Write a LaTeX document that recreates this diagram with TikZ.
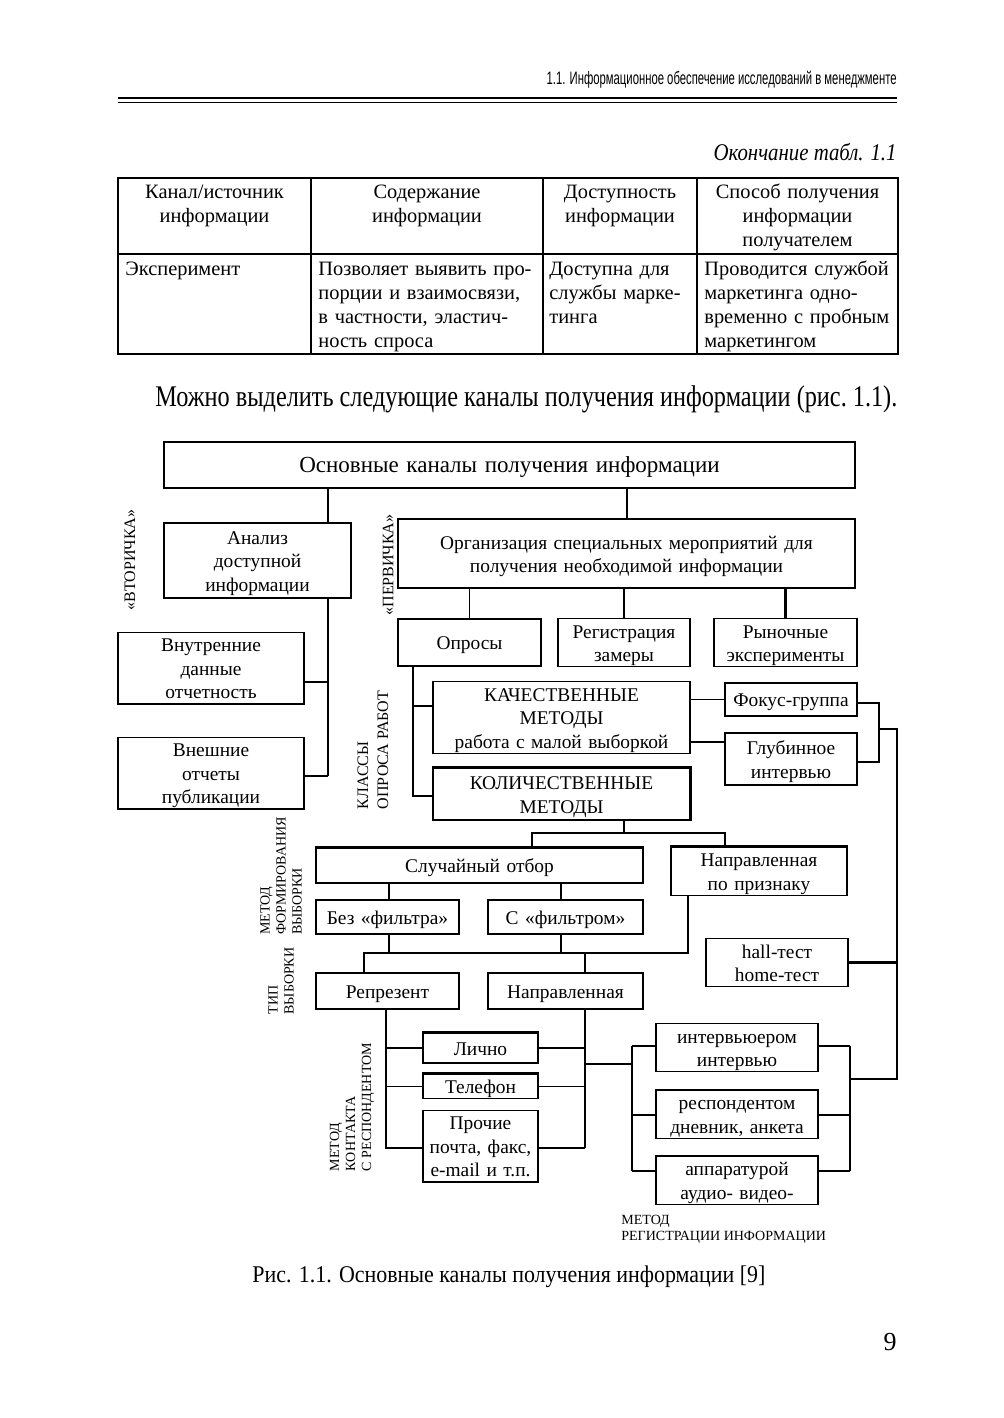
\documentclass[tikz,border=0pt]{standalone}
\usepackage{fontspec}
\usepackage{graphicx}
\setmainfont{Liberation Serif}
\newfontfamily\headfont{Liberation Sans}

\newcommand{\dgfont}{\fontsize{9.7}{11.8}\selectfont}
\newcommand{\tabfont}{\fontsize{10.2}{12}\selectfont}
\newcommand{\tagfont}{\fontsize{8}{10}\selectfont}
\newcommand{\smalltag}{\fontsize{7}{8}\selectfont}

\begin{document}
\begin{tikzpicture}[x=0.5pt,y=-0.5pt,
  box/.style={draw,line width=0.6pt,inner sep=0pt,align=center,font=\dgfont,
    execute at begin node={\rule{0pt}{9.8pt}},
    execute at end node={\rule[-2.5pt]{0pt}{0pt}}},
  size/.style 2 args={minimum width=#1*0.5pt,minimum height=#2*0.5pt,text width=#1*0.5pt-4pt},
  link/.style={line width=0.6pt},
  heavy/.style={line width=1.2pt},
  tag/.style={rotate=90,align=left,inner sep=0pt},
  cell/.style={inner sep=0pt,font=\tabfont}]
  \fill[white] (0,0) rectangle (1004,1418);
  \useasboundingbox (0,0) rectangle (1004,1418);

  % running head
  \node[anchor=base east,inner sep=0pt] (runhead) at (897,85)
    {\headfont\fontsize{9}{10}\selectfont\resizebox{175pt}{\height}{1.1. Информационное обеспечение исследований в менеджменте}};
  \draw[line width=1.1pt] (118,98) -- (897,98);
  \draw[line width=0.5pt] (118,103) -- (897,103);

  % end of table 1.1
  \node[anchor=base east,inner sep=0pt] (tabtitle) at (897,161)
    {\fontsize{12}{14}\selectfont\resizebox{91.5pt}{\height}{\itshape Окончание табл. 1.1}};
  \draw[line width=0.6pt] (118,178) rectangle (898,354);
  \draw[line width=0.6pt] (118,254) -- (898,254);
  \foreach \cx in {311,543,697}
    \draw[line width=0.6pt] (\cx,178) -- (\cx,354);

  \node[cell,anchor=north,text width=92pt,align=center] (h1) at (214.5,181.7) {\strut Канал/источник\\информации};
  \node[cell,anchor=north,text width=112pt,align=center] (h2) at (427,181.7) {\strut Содержание\\информации};
  \node[cell,anchor=north,text width=74pt,align=center] (h3) at (620,181.7) {\strut Доступность\\информации};
  \node[cell,anchor=north,text width=96pt,align=center] (h4) at (797.5,181.7) {\strut Способ получения\\информации\\получателем};
  \node[cell,anchor=north west,text width=115pt,align=left] (b1) at (125,258.7) {\strut Эксперимент};
  \node[cell,anchor=north west,text width=115pt,align=left] (b2) at (318,258.7) {\strut Позволяет выявить про-\\порции и взаимосвязи,\\в частности, эластич-\\ность спроса};
  \node[cell,anchor=north west,text width=115pt,align=left] (b3) at (549,258.7) {\strut Доступна для\\службы марке-\\тинга};
  \node[cell,anchor=north west,text width=115pt,align=left] (b4) at (704,258.7) {\strut Проводится службой\\маркетинга одно-\\временно с пробным\\маркетингом};

  % lead-in line
  \node[anchor=base west,inner sep=0pt] (lead) at (155,406)
    {\fontsize{15}{17}\selectfont\resizebox{371pt}{\height}{Можно выделить следующие каналы получения информации (рис.~1.1).}};

  % boxes
  \node[box,size={691}{46},font=\fontsize{11.5}{14}\selectfont] (top) at (509.5,465) {Основные каналы получения информации};
  \node[box,size={187}{75}] (analiz) at (257.5,560.5) {Анализ\\доступной\\информации};
  \node[box,size={186}{70}] (vnutr) at (211,668) {Внутренние\\данные\\отчетность};
  \node[box,size={186}{70}] (vnesh) at (211,773) {Внешние\\отчеты\\публикации};
  \node[box,size={457}{69}] (org) at (626.5,553.5) {Организация специальных мероприятий для\\получения необходимой информации};
  \node[box,size={143}{47}] (opros) at (469.5,642.5) {Опросы};
  \node[box,size={132}{47}] (reg) at (624,642.5) {Регистрация\\замеры};
  \node[box,size={143}{47}] (rynok) at (785.5,642.5) {Рыночные\\эксперименты};
  \node[box,size={257}{69}] (kach) at (561.5,717.5) {КАЧЕСТВЕННЫЕ\\МЕТОДЫ\\работа с малой выборкой};
  \node[box,size={257}{52}] (kolich) at (561.5,794) {КОЛИЧЕСТВЕННЫЕ\\МЕТОДЫ};
  \node[box,size={132}{33}] (fokus) at (791,699.5) {Фокус-группа};
  \node[box,size={132}{52}] (glub) at (791,759) {Глубинное\\интервью};
  \node[box,size={327}{35}] (sluch) at (479.5,865.5) {Случайный отбор};
  \node[box,size={176}{46}] (naprpr) at (759,871) {Направленная\\по признаку};
  \node[box,size={143}{34}] (bez) at (387.5,917) {Без «фильтра»};
  \node[box,size={155}{34}] (sfil) at (565.5,917) {С «фильтром»};
  \node[box,size={142}{47}] (hall) at (777,962.5) {hall-тест\\home-тест};
  \node[box,size={143}{36}] (repr) at (387.5,991) {Репрезент};
  \node[box,size={155}{36}] (napr) at (565.5,991) {Направленная};
  \node[box,size={115}{30}] (lichno) at (480.5,1048) {Лично};
  \node[box,size={115}{23}] (tel) at (480.5,1086.5) {Телефон};
  \node[box,size={115}{70}] (proch) at (480.5,1146) {Прочие\\почта, факс,\\e-mail и т.п.};
  \node[box,size={162}{47}] (intv) at (737,1047.5) {интервьюером\\интервью};
  \node[box,size={162}{46}] (resp) at (737,1114) {респондентом\\дневник, анкета};
  \node[box,size={162}{46}] (appar) at (737,1180) {аппаратурой\\аудио- видео-};

  % heavier edges of some boxes
  \draw[heavy] (kolich.north west) -- (kolich.north east) -- (kolich.south east);
  \draw[heavy] (sluch.north west) -- (sluch.north east);
  \draw[heavy] (naprpr.north west) -- (naprpr.north east);
  \draw[heavy] (lichno.north west) -- (lichno.north east);
  \draw[heavy] (tel.north west) -- (tel.north east);

  % side labels
  \node[tag,font=\tagfont] (vtor) at (130,560) {«ВТОРИЧКА»};
  \node[tag,font=\tagfont] (perv) at (388,565) {«ПЕРВИЧКА»};
  \node[tag,font=\tagfont] (klassy) at (373,750) {КЛАССЫ\\ОПРОСА РАБОТ};
  \node[tag,font=\smalltag] (formir) at (281,876) {МЕТОД\\ФОРМИРОВАНИЯ\\ВЫБОРКИ};
  \node[tag,font=\smalltag] (tip) at (281,981) {ТИП\\ВЫБОРКИ};
  \node[tag,font=\smalltag] (kontakt) at (352,1107) {МЕТОД\\КОНТАКТА\\С РЕСПОНДЕНТОМ};
  \node[anchor=west,align=left,inner sep=0pt,font=\smalltag] (registr) at (621,1229.5) {МЕТОД\\РЕГИСТРАЦИИ ИНФОРМАЦИИ};

  % secondary branch
  \coordinate (secbus) at (328,776);
  \draw[link] (top.south -| secbus) -- (analiz.north -| secbus);
  \draw[link] (analiz.south -| secbus) -- (secbus);
  \draw[link] (vnutr.east |- 0,682) -- (secbus |- 0,682);
  \draw[heavy] (vnesh.east |- secbus) -- (secbus);

  % primary branch
  \draw[heavy] (top.south -| 627,0) -- (org.north -| 627,0);
  \draw[link] (org.south -| opros.north) -- (opros.north);
  \draw[link] (org.south -| reg.north) -- (reg.north);
  \draw[heavy] (org.south -| rynok.north) -- (rynok.north);

  % classes of surveys
  \coordinate (clbus) at (413,796);
  \draw[link] (opros.south -| clbus) -- (clbus) -- (kolich.west |- clbus);
  \draw[heavy] (clbus |- 0,706) -- (kach.west |- 0,706);
  \draw[link] (kach.east |- fokus.west) -- (fokus.west);
  \draw[link] (kach.east |- 0,742) -- (glub.west |- 0,742);
  \coordinate (qbus) at (879,729);
  \draw[heavy] (fokus.east |- 0,703) -| (qbus) |- (glub.east |- 0,762);
  \coordinate (rbus) at (897,1079);
  \coordinate (regR) at (850,1079);
  \draw[link] (qbus) -| (rbus) -- (regR);
  \draw[heavy] (hall.east) -- (hall.east -| rbus);

  % sampling
  \coordinate (kbus) at (624,833);
  \draw[link] (kolich.south -| kbus) -- (kbus);
  \draw[link] (sluch.north -| 532,0) |- (kbus) -| (naprpr.north -| 725,0);
  \draw[link] (sluch.south -| 389,0) -- (bez.north -| 389,0);
  \draw[link] (sluch.south -| 561,0) -- (sfil.north -| 561,0);
  \coordinate (tbus) at (688,953);
  \draw[link] (naprpr.south -| tbus) -- (tbus) -- (tbus -| 364,0) -- (repr.north -| 364,0);
  \draw[link] (bez.south -| 389,0) -- (tbus -| 389,0);
  \draw[link] (sfil.south -| 561,0) -- (tbus -| 561,0);
  \draw[heavy] (tbus -| 585,0) -- (napr.north -| 585,0);

  % contact with respondent
  \coordinate (lbus) at (386,1148);
  \draw[link] (repr.south -| lbus) -- (lbus) -- (proch.west |- lbus);
  \draw[heavy] (lbus |- lichno.west) -- (lichno.west);
  \draw[link] (lbus |- tel.west) -- (tel.west);
  \coordinate (nbus) at (585,1148);
  \draw[heavy] (napr.south -| nbus) -- (nbus);
  \draw[link] (proch.east |- nbus) -- (nbus);
  \draw[heavy] (lichno.east) -- (lichno.east -| nbus);
  \draw[link] (tel.east) -- (tel.east -| nbus);

  % registration of information
  \coordinate (regL) at (632,1064);
  \draw[link] (nbus |- regL) -- (regL);
  \draw[link] (regL |- 0,1046) -- (regL |- 0,1171);
  \draw[heavy] (regL |- 0,1046) -- (intv.west |- 0,1046);
  \draw[heavy] (regL |- 0,1115) -- (resp.west |- 0,1115);
  \draw[heavy] (regL |- 0,1171) -- (appar.west |- 0,1171);
  \draw[link] (regR |- 0,1046) -- (regR |- 0,1171);
  \draw[heavy] (intv.east |- 0,1046) -- (regR |- 0,1046);
  \draw[link] (resp.east |- 0,1115) -- (regR |- 0,1115);
  \draw[heavy] (appar.east |- 0,1171) -- (regR |- 0,1171);

  % caption and page number
  \node[anchor=base west,inner sep=0pt] (caption) at (252,1282)
    {\fontsize{12}{14}\selectfont\resizebox{256.5pt}{\height}{Рис. 1.1. Основные каналы получения информации [9]}};
  \node[anchor=base east,inner sep=0pt] (pagenum) at (897,1350) {\fontsize{13}{15}\selectfont 9};
\end{tikzpicture}
\end{document}
